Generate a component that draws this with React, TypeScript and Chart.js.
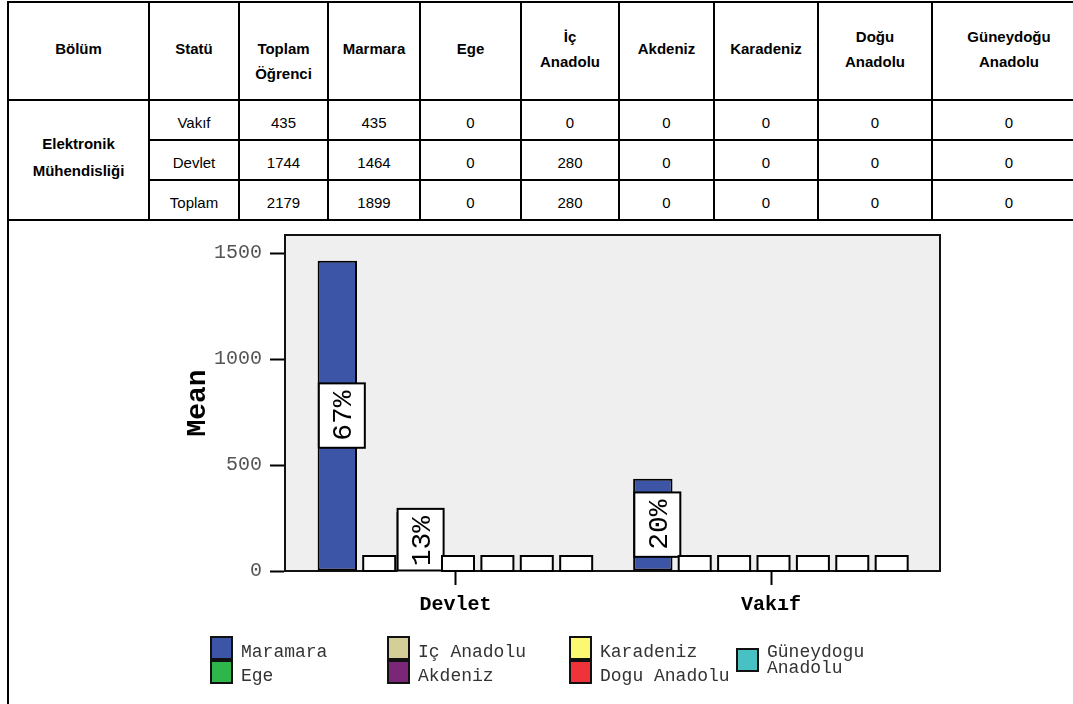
import React, { useEffect, useRef } from 'react';
import { Chart, registerables } from 'chart.js';

Chart.register(...registerables);

// ---- table data ----
const tableHeaders = ['Bölüm', 'Statü', 'Toplam\nÖğrenci', 'Marmara', 'Ege', 'İç\nAnadolu', 'Akdeniz', 'Karadeniz', 'Doğu\nAnadolu', 'Güneydoğu\nAnadolu'];
const departmentName = ['Elektronik', 'Mühendisliği'];
const tableStatus = ['Vakıf', 'Devlet', 'Toplam'];
const tableTotalStudents = [435, 1744, 2179];
const tableMarmara = [435, 1464, 1899];
const tableEge = [0, 0, 0];
const tableIcAnadolu = [0, 280, 280];
const tableAkdeniz = [0, 0, 0];
const tableKaradeniz = [0, 0, 0];
const tableDoguAnadolu = [0, 0, 0];
const tableGuneydogu = [0, 0, 0];

// ---- chart data ----
const statuses = ['Devlet', 'Vakıf'];
const regionNames = ['Maramara', 'Ege', 'Iç Anadolu', 'Akdeniz', 'Karadeniz', 'Dogu Anadolu', 'Güneydogu Anadolu'];
const marmaraMeans = [1464, 435];
const egeMeans = [0, 0];
const icAnadoluMeans = [280, 0];
const akdenizMeans = [0, 0];
const karadenizMeans = [0, 0];
const doguAnadoluMeans = [0, 0];
const guneydoguMeans = [0, 0];
const regionColors = ['#3c55a6', '#2fb64a', '#d4cf98', '#7b2777', '#fcf872', '#f0333b', '#47c1c4'];
const yTickValues = [0, 500, 1000, 1500];

const MONO = '"Courier New", "Liberation Mono", monospace';
const SANS = 'Arial, "Liberation Sans", sans-serif';

const colWidths = [141, 90, 89, 92, 101, 98, 95, 104, 114, 154];

const plotFrame = {
  id: 'plotFrame',
  beforeDraw(chart: any) {
    const { ctx, chartArea } = chart;
    const { left, top, right, bottom } = chartArea;
    ctx.save();
    ctx.fillStyle = '#efefef';
    ctx.fillRect(left, top, right - left, bottom - top);
    ctx.restore();
  },
  beforeDatasetsDraw(chart: any) {
    const { ctx, chartArea } = chart;
    const { left, top, right, bottom } = chartArea;
    ctx.save();
    ctx.strokeStyle = '#111';
    ctx.lineWidth = 2;
    ctx.strokeRect(left, top, right - left, bottom - top);
    ctx.restore();
  },
};

const percentLabels = {
  id: 'percentLabels',
  afterDatasetsDraw(chart: any) {
    const { ctx, chartArea } = chart;
    const all: number[] = [];
    chart.data.datasets.forEach((ds: any) => ds.data.forEach((p: any) => all.push(p.y)));
    const total = all.reduce((a, b) => a + b, 0);
    ctx.save();
    // keep label boxes above the category axis
    ctx.beginPath();
    ctx.rect(chartArea.left, 0, chartArea.right - chartArea.left, chartArea.bottom + 1);
    ctx.clip();
    chart.data.datasets.forEach((ds: any, di: number) => {
      const meta = chart.getDatasetMeta(di);
      meta.data.forEach((bar: any, j: number) => {
        const v = ds.data[j].y;
        ctx.lineWidth = 2;
        ctx.strokeStyle = '#000';
        ctx.fillStyle = '#fff';
        if (v > 0) {
          const text = Math.round((v / total) * 100) + '%';
          ctx.font = `28px ${MONO}`;
          const tw = ctx.measureText(text).width;
          const w = 46;
          const h = tw + 14;
          const cx = bar.x + 4.5;
          const cy = (bar.y + bar.base) / 2;
          ctx.fillRect(cx - w / 2, cy - h / 2, w, h);
          ctx.strokeRect(cx - w / 2, cy - h / 2, w, Math.min(h, bar.base - (cy - h / 2)));
          ctx.save();
          ctx.translate(cx, cy);
          ctx.rotate(-Math.PI / 2);
          ctx.fillStyle = '#000';
          ctx.textAlign = 'center';
          ctx.textBaseline = 'middle';
          ctx.fillText(text, 0, 2);
          ctx.restore();
        } else {
          const w = 32;
          const h = 15;
          const cx = bar.x + 2.5;
          ctx.fillRect(cx - w / 2, bar.base - h, w, h);
          ctx.strokeRect(cx - w / 2, bar.base - h, w, h);
        }
      });
    });
    ctx.restore();
  },
};

// legend laid out column by column, two rows per column; a lone last item is centred
const columnLegend = {
  id: 'columnLegend',
  afterDraw(chart: any) {
    const { ctx } = chart;
    const colX = [211, 388, 570, 737];
    const rowTop = [415, 439];
    const boxW = 21;
    const boxH = 22;
    const items = chart.data.datasets.map((ds: any) => ({ label: ds.label, color: ds.backgroundColor }));
    ctx.save();
    ctx.font = `18px ${MONO}`;
    ctx.textBaseline = 'middle';
    ctx.textAlign = 'left';
    items.forEach((it: any, i: number) => {
      const col = Math.floor(i / 2);
      const lone = col * 2 + 1 >= items.length;
      const x = colX[col];
      const y = lone ? (rowTop[0] + rowTop[1]) / 2 : rowTop[i % 2];
      ctx.fillStyle = it.color;
      ctx.fillRect(x, y, boxW, boxH);
      ctx.lineWidth = 2;
      ctx.strokeStyle = '#111';
      ctx.strokeRect(x, y, boxW, boxH);
      ctx.fillStyle = '#333';
      const lines = lone ? it.label.split(' ') : [it.label];
      lines.forEach((ln: string, k: number) => {
        ctx.fillText(ln, x + boxW + 9, y + 3 + k * 16 + (lone ? 0 : boxH / 2 + 1));
      });
    });
    ctx.restore();
  },
};

function DataTable() {
  const cell: React.CSSProperties = {
    border: '2px solid #000',
    textAlign: 'center',
    padding: 0,
    fontFamily: SANS,
    fontSize: 15,
    color: '#000',
  };
  const rowValues = tableStatus.map((s, i) => [
    s,
    tableTotalStudents[i],
    tableMarmara[i],
    tableEge[i],
    tableIcAnadolu[i],
    tableAkdeniz[i],
    tableKaradeniz[i],
    tableDoguAnadolu[i],
    tableGuneydogu[i],
  ]);
  return (
    <table
      style={{
        position: 'absolute',
        left: 7,
        top: 1,
        borderCollapse: 'collapse',
        tableLayout: 'fixed',
        width: colWidths.reduce((a, b) => a + b, 0),
      }}
    >
      <colgroup>
        {colWidths.map((w, i) => (
          <col key={i} style={{ width: w }} />
        ))}
      </colgroup>
      <tbody>
        <tr style={{ height: 98 }}>
          {tableHeaders.map((h, i) => {
            const lines = h.split('\n');
            const first = i === 2;
            return (
              <th
                key={i}
                style={{
                  ...cell,
                  fontWeight: 'bold',
                  verticalAlign: 'top',
                  lineHeight: '25px',
                  paddingTop: lines.length === 1 || first ? 33 : 21,
                }}
              >
                {lines.map((l, k) => (
                  <div key={k}>{l}</div>
                ))}
              </th>
            );
          })}
        </tr>
        {rowValues.map((r, i) => (
          <tr key={i} style={{ height: 40 }}>
            {i === 0 && (
              <td rowSpan={3} style={{ ...cell, fontWeight: 'bold', lineHeight: '27px', paddingBottom: 6 }}>
                {departmentName.map((l, k) => (
                  <div key={k}>{l}</div>
                ))}
              </td>
            )}
            {r.map((v, k) => (
              <td key={k} style={{ ...cell, paddingTop: 4 }}>
                {v}
              </td>
            ))}
          </tr>
        ))}
      </tbody>
    </table>
  );
}

export default function App() {
  const canvasRef = useRef<HTMLCanvasElement>(null);

  useEffect(() => {
    document.body.style.margin = '0';
    const canvas = canvasRef.current;
    if (!canvas) return;
    const seriesValues = [marmaraMeans, egeMeans, icAnadoluMeans, akdenizMeans, karadenizMeans, doguAnadoluMeans, guneydoguMeans];

    // group centres sit 315.5px apart inside a 655px wide plot
    const unitPx = 315.5;
    const xMin = -(455.5 - 285) / unitPx;
    const xMax = xMin + 655 / unitPx;

    const chart = new Chart(canvas, {
      type: 'bar',
      data: {
        datasets: seriesValues.map((vals, i) => ({
          label: regionNames[i],
          data: vals.map((v, j) => ({ x: j, y: v })),
          backgroundColor: regionColors[i],
          borderColor: '#000',
          borderWidth: 2,
          borderSkipped: false,
          categoryPercentage: 0.874,
          barPercentage: 1,
        })),
      },
      options: {
        responsive: false,
        animation: false,
        events: [],
        layout: { padding: { left: 175, right: 133, top: 13, bottom: 73 } },
        plugins: {
          legend: { display: false },
          tooltip: { enabled: false },
        },
        scales: {
          x: {
            type: 'linear',
            offset: false,
            min: xMin,
            max: xMax,
            afterBuildTicks: (s: any) => {
              s.ticks = statuses.map((_, i) => ({ value: i }));
            },
            afterFit: (s: any) => {
              s.height = 60;
              s.paddingLeft = 0;
              s.paddingRight = 0;
            },
            ticks: {
              callback: (v: any) => statuses[v as number] ?? '',
              font: { family: MONO, size: 20, weight: 'bold' },
              color: '#000',
              padding: 8,
              maxRotation: 0,
              autoSkip: false,
            },
            grid: { offset: false, drawOnChartArea: false, drawTicks: true, tickLength: 14, tickColor: '#000', tickWidth: 2 },
            border: { display: true, color: '#000', width: 2 },
          },
          y: {
            min: 0,
            max: 1585,
            afterBuildTicks: (s: any) => {
              s.ticks = yTickValues.map((v) => ({ value: v }));
            },
            afterFit: (s: any) => {
              s.width = 110;
              s.paddingTop = 0;
              s.paddingBottom = 0;
            },
            ticks: {
              callback: (v: any) => String(v),
              font: { family: MONO, size: 20 },
              color: '#555',
              padding: 8,
            },
            grid: { drawOnChartArea: false, drawTicks: true, tickLength: 15, tickColor: '#000', tickWidth: 2 },
            border: { display: true, color: '#000', width: 2 },
            title: {
              display: true,
              text: 'Mean',
              font: { family: MONO, size: 28, weight: 'bold' },
              color: '#000',
              padding: { top: 6, bottom: 0 },
            },
          },
        },
      } as any,
      plugins: [plotFrame, percentLabels, columnLegend],
    });
    return () => chart.destroy();
  }, []);

  return (
    <div style={{ position: 'relative', width: 1073, height: 704, overflow: 'hidden', background: '#fff' }}>
      <DataTable />
      <canvas
        ref={canvasRef}
        width={1073}
        height={482}
        style={{ position: 'absolute', left: 0, top: 222, width: 1073, height: 482, display: 'block' }}
      />
      <div style={{ position: 'absolute', left: 7, top: 220, width: 2, height: 484, background: '#000' }} />
    </div>
  );
}
